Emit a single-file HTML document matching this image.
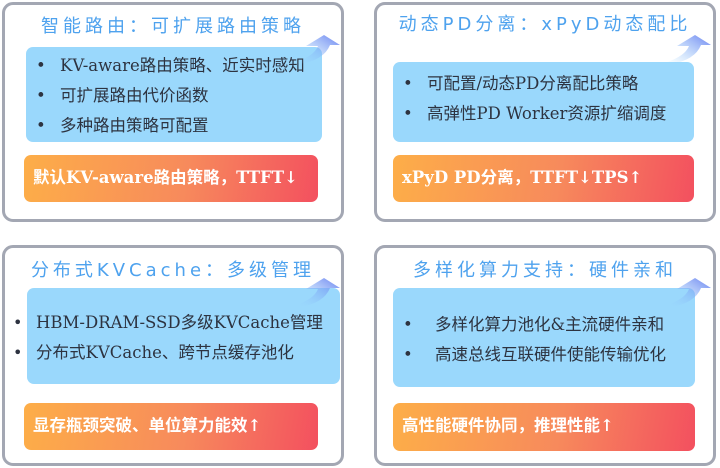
<!DOCTYPE html>
<html><head><meta charset="utf-8"><style>
*{margin:0;padding:0;box-sizing:border-box}
body{width:720px;height:468px;background:#fff;position:relative;overflow:hidden;font-family:"DejaVu Serif","Noto Sans CJK SC",serif}
.p{position:absolute;border:3px solid #a3a7b3;border-radius:11px;background:#fff}
.t{position:absolute;color:#4ea2ee;font-family:"DejaVu Sans","Noto Sans CJK SC",sans-serif;font-size:18px;letter-spacing:4px;white-space:nowrap;text-align:center}
.b{position:absolute;background:#9ad8fc;border-radius:7px;color:#2d3340;font-size:16.5px;line-height:30px}
.b div{position:relative;padding-left:34px;white-space:nowrap}
.b div:before{content:"•";position:absolute;left:10px}
.b.n div:before{content:none}
.o{position:absolute;border-radius:7px;background:linear-gradient(100deg,#fdae48,#f78a5c 55%,#f3505f);color:#fff;font-weight:bold;font-size:16.5px;line-height:46px;padding-left:9px;white-space:nowrap;font-family:"DejaVu Serif","Noto Sans CJK SC",sans-serif}
svg{position:absolute}
</style></head><body>
<div class="p" style="left:2px;top:2px;width:342px;height:220px"></div>
<div class="t" style="left:2px;width:342px;top:12px">智能路由：可扩展路由策略</div>
<div class="b" style="left:26px;top:47px;width:296px;height:95px;padding-top:4px"><div>KV-aware路由策略、近实时感知</div><div>可扩展路由代价函数</div><div>多种路由策略可配置</div></div>
<div class="o" style="left:24px;top:155px;width:294px;height:47px">默认KV-aware路由策略，TTFT↓</div>

<div class="p" style="left:374px;top:2px;width:342px;height:220px"></div>
<div class="t" style="left:374px;width:342px;top:10px">动态PD分离：xPyD动态配比</div>
<div class="b" style="left:393px;top:62px;width:301px;height:80px;padding-top:7px"><div>可配置/动态PD分离配比策略</div><div>高弹性PD Worker资源扩缩调度</div></div>
<div class="o" style="left:393px;top:155px;width:301px;height:47px">xPyD PD分离，TTFT↓TPS↑</div>

<div class="p" style="left:2px;top:245px;width:342px;height:221px"></div>
<div class="t" style="left:2px;width:342px;top:256px">分布式KVCache：多级管理</div>
<div class="b n" style="left:27px;top:288px;width:313px;height:96px;padding-top:20px"><div style="padding-left:9px">HBM-DRAM-SSD多级KVCache管理</div><div style="padding-left:9px">分布式KVCache、跨节点缓存池化</div></div>
<div style="position:absolute;left:13px;top:308px;font-size:16px;line-height:30px;color:#2d3340">•<br>•</div>
<div class="o" style="left:24px;top:403px;width:294px;height:47px">显存瓶颈突破、单位算力能效↑</div>

<div class="p" style="left:374px;top:245px;width:342px;height:221px"></div>
<div class="t" style="left:374px;width:342px;top:256px">多样化算力支持：硬件亲和</div>
<div class="b" style="left:393px;top:288px;width:302px;height:99px;padding-top:22px"><div style="padding-left:42px">多样化算力池化&amp;主流硬件亲和</div><div style="padding-left:42px">高速总线互联硬件使能传输优化</div></div>
<div class="o" style="left:393px;top:403px;width:302px;height:48px">高性能硬件协同，推理性能↑</div>

<svg width="720" height="468" viewBox="0 0 720 468">
<defs><linearGradient id="g" x1="0" y1="1" x2="1" y2="0"><stop offset="0" stop-color="#9ad8fc" stop-opacity="0"/><stop offset="1" stop-color="#6a7ff0"/></linearGradient></defs>
<g id="a"><path d="M296 62 Q314 56 318 46 L306 46 L324 35 L340 45 L330 45 Q324 60 300 64 Z" fill="url(#g)"/></g>
<use href="#a" x="371" y="0"/>
<use href="#a" x="0" y="243"/>
<use href="#a" x="371" y="243"/>
</svg>
</body></html>
